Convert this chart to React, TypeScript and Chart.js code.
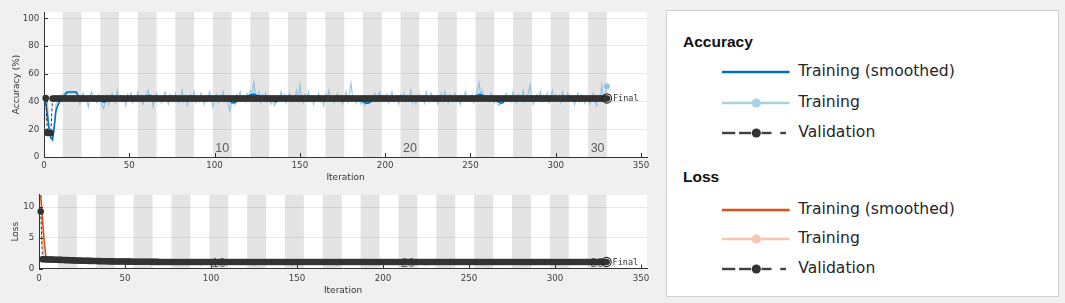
import React, { useEffect, useRef } from "react";
import { Chart, registerables } from "chart.js";
Chart.register(...registerables);

// ---------------- data ----------------
const ITERS_PER_EPOCH = 11;
const NUM_EPOCHS = 30;
const epochLabelValues = [10, 20, 30];
const xTickValues = [0, 50, 100, 150, 200, 250, 300, 350];
const accTickValues = [0, 20, 40, 60, 80, 100];
const lossTickValues = [0, 5, 10];

// iterations 1..330
const accTrainRaw = [
  27, 41, 18, 14, 12, 20, 38, 40, 43, 44,
  45, 46, 47, 46, 47, 46, 47, 46, 47, 44,
  38, 43, 46, 40, 42, 36, 44, 47, 41, 43,
  39, 45, 42, 37, 35, 41, 44, 38, 43, 46,
  42, 39, 48, 41, 44, 40, 43, 37, 45, 42,
  46, 39, 43, 41, 47, 40, 44, 38, 42, 45,
  48, 41, 44, 36, 43, 46, 40, 42, 39, 44,
  47, 41, 38, 45, 43, 40, 46, 42, 39, 43,
  48, 40, 44, 37, 42, 45, 41, 47, 39, 43,
  40, 46, 42, 38, 44, 41, 47, 43, 36, 41,
  45, 39, 44, 42, 47, 40, 43, 38, 33, 40,
  42, 38, 45, 43, 47, 41, 44, 40, 46, 43,
  48, 45, 54, 44, 41, 47, 39, 45, 42, 46,
  40, 43, 38, 41, 37, 40, 44, 42, 47, 41,
  45, 39, 43, 46, 40, 44, 42, 48, 41, 52,
  43, 39, 45, 41, 47, 40, 43, 38, 44, 42,
  46, 40, 43, 37, 45, 42, 48, 41, 44, 39,
  43, 46, 41, 44, 38, 42, 47, 40, 45, 53,
  42, 44, 39, 43, 41, 38, 40, 37, 41, 39,
  42, 44, 40, 46, 43, 45, 47, 42, 44, 41,
  45, 39, 43, 47, 40, 44, 42, 38, 45, 43,
  46, 40, 44, 41, 48, 39, 42, 38, 43, 45,
  41, 44, 39, 47, 42, 40, 46, 43, 41, 44,
  38, 42, 46, 40, 47, 43, 39, 45, 41, 43,
  46, 40, 42, 38, 44, 41, 47, 43, 40, 42,
  45, 39, 44, 47, 54, 45, 48, 43, 41, 44,
  40, 46, 42, 39, 41, 38, 37, 39, 40, 43,
  46, 41, 44, 40, 47, 42, 39, 45, 41, 43,
  48, 40, 44, 46, 52, 41, 38, 43, 45, 42,
  47, 40, 44, 41, 46, 39, 43, 48, 42, 45,
  41, 44, 39, 47, 42, 40, 46, 43, 41, 44,
  38, 42, 46, 40, 45, 43, 39, 44, 41, 38,
  43, 46, 40, 37, 44, 42, 52, 41, 45, 51,
];

const accTrainSmoothed = [
  40, 30, 20, 14, 12.5, 22, 33, 37, 39.5, 41,
  42.5, 44, 46, 46.8, 46.8, 46.8, 46.8, 46.8, 46.8, 44,
  42.5, 42.4, 42.6, 42.3, 42.2, 42, 42.4, 42.8, 42.5, 42.4,
  42.1, 41.8, 41, 40.2, 39.6, 39.8, 40.5, 41.3, 42, 42.4,
  42.3, 42.1, 42.6, 42.4, 42.5, 42.2, 42.4, 42, 42.3, 42.2,
  42.5, 42.2, 42.3, 42.1, 42.6, 42.3, 42.4, 42, 42.3, 43.3,
  44.2, 44.4, 44, 43.2, 42.6, 42.4, 42.2, 42.3, 42, 42.4,
  42.8, 42.4, 42.1, 43.2, 43.9, 43.4, 42.7, 42.4, 42, 42.2,
  42.6, 42.3, 42.4, 42, 42.2, 42.5, 42.3, 42.6, 42.1, 42.3,
  42.1, 42.4, 42.3, 42, 42.3, 42.2, 42.6, 42.5, 41.9, 42,
  42.3, 42.1, 42.3, 42.2, 42.5, 42.2, 42.1, 41.4, 40.2, 39.3,
  39, 39.3, 40.1, 41.2, 42.1, 42.3, 42.4, 42.2, 43.1, 44.2,
  44.8, 45, 45.3, 44.9, 44.2, 43.5, 42.6, 42.5, 42.3, 42.4,
  42.1, 42.2, 41.8, 41.1, 40.2, 39.8, 40.3, 41.2, 42.1, 42.2,
  42.3, 42.1, 42.2, 42.4, 42.2, 42.3, 42.2, 42.6, 42.4, 43,
  42.8, 42.4, 42.3, 42.2, 42.5, 42.2, 42.3, 42, 42.1, 42.2,
  42.4, 42.2, 42.3, 41.9, 42.1, 42.2, 42.6, 42.4, 42.5, 42.2,
  42.2, 42.4, 42.3, 42.4, 42.1, 42, 42.3, 42.2, 42.4, 43.2,
  43, 42.7, 42.3, 42.1, 41.8, 41, 40, 39.2, 38.8, 38.8,
  39.3, 40.2, 41.3, 42.3, 42.6, 43.3, 44, 43.8, 43.1, 42.5,
  42.6, 42.3, 42.2, 42.5, 42.2, 42.3, 42.2, 41.9, 42.2, 42.3,
  42.5, 42.2, 42.4, 42.3, 42.6, 42.1, 41.4, 40.9, 41.1, 41.8,
  42.2, 42.3, 42.1, 42.5, 42.4, 42.2, 42.5, 42.4, 42.3, 42.4,
  42.1, 42, 42.3, 42.2, 42.6, 42.5, 42.2, 42.4, 42.3, 42.2,
  42.5, 42.3, 42.2, 42, 42.2, 42.1, 42.5, 42.4, 42.2, 42.2,
  42.5, 42.3, 43.4, 44.4, 45.2, 45, 44.5, 43.5, 42.8, 42.6,
  42.3, 42.4, 42.2, 42, 41.4, 40.3, 39.3, 38.8, 39.1, 40.4,
  41.8, 42.2, 42.3, 42.2, 42.5, 42.4, 42.1, 42.3, 42.2, 42.3,
  42.6, 42.3, 41.6, 40.7, 40.6, 41.5, 42.3, 42.2, 42.4, 42.2,
  42.5, 42.2, 42.3, 42.1, 42.4, 42.1, 42.2, 42.6, 42.4, 42.5,
  42.3, 42.4, 42.1, 42.5, 42.3, 42.2, 42.5, 42.4, 42.2, 42.4,
  42, 42.1, 42.4, 42.2, 42.4, 42.3, 42.1, 42.3, 42.2, 41.8,
  41.9, 42.2, 41.9, 41.1, 40.5, 40.6, 41.4, 42.1, 42.4, 43,
];

const accValidation = [
  42.4, 17.3, 17.3, 17.3, 42.2, 42.2, 42.2, 42.2, 42.2, 42.2,
  42.2, 42.2, 42.2, 42.2, 42.2, 42.2, 42.2, 42.2, 42.2, 42.2,
  42.2, 42.2, 42.2, 42.2, 42.2, 42.2, 42.2, 42.2, 42.2, 42.2,
  42.2, 42.2, 42.2, 42.2, 42.2, 42.2, 42.2, 42.2, 42.2, 42.2,
  42.2, 42.2, 42.2, 42.2, 42.2, 42.2, 42.2, 42.2, 42.2, 42.2,
  42.2, 42.2, 42.2, 42.2, 42.2, 42.2, 42.2, 42.2, 42.2, 42.2,
  42.2, 42.2, 42.2, 42.2, 42.2, 42.2, 42.2, 42.2, 42.2, 42.2,
  42.2, 42.2, 42.2, 42.2, 42.2, 42.2, 42.2, 42.2, 42.2, 42.2,
  42.2, 42.2, 42.2, 42.2, 42.2, 42.2, 42.2, 42.2, 42.2, 42.2,
  42.2, 42.2, 42.2, 42.2, 42.2, 42.2, 42.2, 42.2, 42.2, 42.2,
  42.2, 42.2, 42.2, 42.2, 42.2, 42.2, 42.2, 42.2, 42.2, 42.2,
  42.2, 42.2, 42.2, 42.2, 42.2, 42.2, 42.2, 42.2, 42.2, 42.2,
  42.2, 42.2, 42.2, 42.2, 42.2, 42.2, 42.2, 42.2, 42.2, 42.2,
  42.2, 42.2, 42.2, 42.2, 42.2, 42.2, 42.2, 42.2, 42.2, 42.2,
  42.2, 42.2, 42.2, 42.2, 42.2, 42.2, 42.2, 42.2, 42.2, 42.2,
  42.2, 42.2, 42.2, 42.2, 42.2, 42.2, 42.2, 42.2, 42.2, 42.2,
  42.2, 42.2, 42.2, 42.2, 42.2, 42.2, 42.2, 42.2, 42.2, 42.2,
  42.2, 42.2, 42.2, 42.2, 42.2, 42.2, 42.2, 42.2, 42.2, 42.2,
  42.2, 42.2, 42.2, 42.2, 42.2, 42.2, 42.2, 42.2, 42.2, 42.2,
  42.2, 42.2, 42.2, 42.2, 42.2, 42.2, 42.2, 42.2, 42.2, 42.2,
  42.2, 42.2, 42.2, 42.2, 42.2, 42.2, 42.2, 42.2, 42.2, 42.2,
  42.2, 42.2, 42.2, 42.2, 42.2, 42.2, 42.2, 42.2, 42.2, 42.2,
  42.2, 42.2, 42.2, 42.2, 42.2, 42.2, 42.2, 42.2, 42.2, 42.2,
  42.2, 42.2, 42.2, 42.2, 42.2, 42.2, 42.2, 42.2, 42.2, 42.2,
  42.2, 42.2, 42.2, 42.2, 42.2, 42.2, 42.2, 42.2, 42.2, 42.2,
  42.2, 42.2, 42.2, 42.2, 42.2, 42.2, 42.2, 42.2, 42.2, 42.2,
  42.2, 42.2, 42.2, 42.2, 42.2, 42.2, 42.2, 42.2, 42.2, 42.2,
  42.2, 42.2, 42.2, 42.2, 42.2, 42.2, 42.2, 42.2, 42.2, 42.2,
  42.2, 42.2, 42.2, 42.2, 42.2, 42.2, 42.2, 42.2, 42.2, 42.2,
  42.2, 42.2, 42.2, 42.2, 42.2, 42.2, 42.2, 42.2, 42.2, 42.2,
  42.2, 42.2, 42.2, 42.2, 42.2, 42.2, 42.2, 42.2, 42.2, 42.2,
  42.2, 42.2, 42.2, 42.2, 42.2, 42.2, 42.2, 42.2, 42.2, 42.2,
  42.2, 42.2, 42.2, 42.2, 42.2, 42.2, 42.2, 42.2, 42.2, 42.2,
];

const lossTrainRaw = [
  12, 4.6, 1.7, 1.52, 1.58, 1.44, 1.53, 1.41, 1.5, 1.4,
  1.38, 1.47, 1.36, 1.44, 1.33, 1.41, 1.32, 1.38, 1.3, 1.36,
  1.28, 1.35, 1.26, 1.33, 1.24, 1.31, 1.23, 1.3, 1.21, 1.28,
  1.2, 1.27, 1.18, 1.25, 1.17, 1.24, 1.15, 1.23, 1.14, 1.22,
  1.13, 1.21, 1.12, 1.2, 1.11, 1.19, 1.1, 1.18, 1.09, 1.17,
  1.08, 1.16, 1.07, 1.16, 1.06, 1.15, 1.06, 1.14, 1.05, 1.14,
  1.05, 1.13, 1.04, 1.13, 1.03, 1.12, 1.03, 1.12, 1.02, 1.11,
  1.02, 1.11, 1.01, 1.1, 1.01, 1.1, 1.0, 1.09, 1.0, 1.09,
  1.01, 1.1, 0.99, 1.08, 1.02, 1.11, 0.98, 1.07, 1.03, 1.1,
  0.99, 1.08, 1.01, 1.12, 0.98, 1.06, 1.02, 1.09, 0.99, 1.08,
  1.03, 1.1, 0.98, 1.07, 1.01, 1.11, 0.99, 1.06, 1.02, 1.09,
  0.98, 1.08, 1.03, 1.1, 0.99, 1.07, 1.01, 1.12, 0.98, 1.06,
  1.02, 1.09, 0.99, 1.08, 1.03, 1.1, 0.98, 1.07, 1.01, 1.11,
  0.99, 1.06, 1.02, 1.09, 0.98, 1.08, 1.03, 1.1, 0.99, 1.07,
  1.01, 1.12, 0.98, 1.06, 1.02, 1.09, 0.99, 1.08, 1.03, 1.1,
  0.98, 1.07, 1.01, 1.11, 0.99, 1.06, 1.02, 1.09, 0.98, 1.08,
  1.03, 1.1, 0.99, 1.07, 1.01, 1.12, 0.98, 1.06, 1.02, 1.09,
  0.99, 1.08, 1.03, 1.1, 0.98, 1.07, 1.01, 1.11, 0.99, 1.06,
  1.02, 1.09, 0.98, 1.08, 1.03, 1.1, 0.99, 1.07, 1.01, 1.12,
  0.98, 1.06, 1.02, 1.09, 0.99, 1.08, 1.03, 1.1, 0.98, 1.07,
  1.01, 1.11, 0.99, 1.06, 1.02, 1.09, 0.98, 1.08, 1.03, 1.1,
  0.99, 1.07, 1.01, 1.12, 0.98, 1.06, 1.02, 1.09, 0.99, 1.08,
  1.03, 1.1, 0.98, 1.07, 1.01, 1.11, 0.99, 1.06, 1.02, 1.09,
  0.98, 1.08, 1.03, 1.1, 0.99, 1.07, 1.01, 1.12, 0.98, 1.06,
  1.02, 1.09, 0.99, 1.08, 1.03, 1.1, 0.98, 1.07, 1.01, 1.11,
  0.99, 1.06, 1.02, 1.09, 0.98, 1.08, 1.03, 1.1, 0.99, 1.07,
  1.01, 1.12, 0.98, 1.06, 1.02, 1.09, 0.99, 1.08, 1.03, 1.1,
  0.98, 1.07, 1.01, 1.11, 0.99, 1.06, 1.02, 1.09, 0.98, 1.08,
  1.03, 1.1, 0.99, 1.07, 1.01, 1.12, 0.98, 1.06, 1.02, 1.09,
  0.99, 1.08, 1.03, 1.1, 0.98, 1.07, 1.01, 1.11, 0.99, 1.06,
  1.02, 1.09, 0.98, 1.08, 1.03, 1.1, 0.99, 1.07, 1.01, 1.12,
  0.98, 1.06, 1.02, 1.09, 0.99, 1.08, 1.03, 1.1, 0.98, 1.07,
  1.01, 1.11, 0.99, 1.06, 1.02, 1.09, 0.98, 1.08, 1.03, 1.08,
];

const lossTrainSmoothed = [
  12, 8.2, 4.5, 1.85, 1.55, 1.5, 1.49, 1.47, 1.46, 1.45,
  1.43, 1.42, 1.41, 1.4, 1.38, 1.37, 1.36, 1.35, 1.34, 1.33,
  1.32, 1.31, 1.3, 1.29, 1.28, 1.27, 1.27, 1.26, 1.25, 1.24,
  1.23, 1.23, 1.22, 1.21, 1.21, 1.2, 1.19, 1.19, 1.18, 1.18,
  1.17, 1.17, 1.16, 1.16, 1.15, 1.15, 1.14, 1.14, 1.14, 1.13,
  1.13, 1.12, 1.12, 1.12, 1.11, 1.11, 1.11, 1.1, 1.1, 1.1,
  1.1, 1.09, 1.09, 1.09, 1.09, 1.08, 1.08, 1.08, 1.08, 1.08,
  1.07, 1.07, 1.07, 1.07, 1.07, 1.07, 1.06, 1.06, 1.06, 1.06,
  1.06, 1.06, 1.05, 1.06, 1.05, 1.05, 1.06, 1.05, 1.05, 1.05,
  1.04, 1.05, 1.05, 1.04, 1.05, 1.05, 1.04, 1.04, 1.05, 1.04,
  1.05, 1.06, 1.05, 1.04, 1.04, 1.05, 1.05, 1.04, 1.04, 1.03,
  1.04, 1.04, 1.05, 1.05, 1.04, 1.04, 1.05, 1.06, 1.05, 1.04,
  1.03, 1.04, 1.04, 1.05, 1.04, 1.04, 1.05, 1.05, 1.04, 1.04,
  1.05, 1.04, 1.04, 1.03, 1.04, 1.05, 1.05, 1.04, 1.04, 1.04,
  1.05, 1.05, 1.04, 1.04, 1.05, 1.04, 1.03, 1.04, 1.04, 1.05,
  1.04, 1.05, 1.05, 1.04, 1.04, 1.04, 1.05, 1.04, 1.03, 1.04,
  1.04, 1.05, 1.04, 1.04, 1.05, 1.05, 1.04, 1.04, 1.05, 1.04,
  1.05, 1.06, 1.05, 1.04, 1.04, 1.03, 1.04, 1.04, 1.05, 1.05,
  1.04, 1.04, 1.05, 1.04, 1.04, 1.05, 1.04, 1.04, 1.03, 1.04,
  1.05, 1.04, 1.04, 1.05, 1.05, 1.04, 1.04, 1.04, 1.05, 1.04,
  1.04, 1.03, 1.04, 1.04, 1.05, 1.04, 1.04, 1.05, 1.05, 1.04,
  1.04, 1.05, 1.04, 1.04, 1.03, 1.04, 1.04, 1.05, 1.04, 1.04,
  1.05, 1.05, 1.04, 1.04, 1.04, 1.05, 1.04, 1.03, 1.04, 1.04,
  1.04, 1.05, 1.05, 1.04, 1.04, 1.05, 1.04, 1.04, 1.04, 1.05,
  1.04, 1.04, 1.03, 1.04, 1.05, 1.06, 1.05, 1.04, 1.04, 1.04,
  1.05, 1.04, 1.04, 1.05, 1.05, 1.04, 1.04, 1.03, 1.04, 1.04,
  1.05, 1.04, 1.04, 1.04, 1.05, 1.05, 1.04, 1.04, 1.05, 1.04,
  1.04, 1.03, 1.04, 1.05, 1.04, 1.04, 1.05, 1.04, 1.04, 1.05,
  1.05, 1.04, 1.04, 1.04, 1.05, 1.04, 1.03, 1.04, 1.04, 1.05,
  1.04, 1.05, 1.05, 1.04, 1.04, 1.04, 1.05, 1.04, 1.04, 1.03,
  1.04, 1.04, 1.05, 1.04, 1.04, 1.05, 1.05, 1.04, 1.04, 1.04,
  1.05, 1.04, 1.04, 1.03, 1.04, 1.05, 1.04, 1.04, 1.05, 1.05,
  1.04, 1.04, 1.05, 1.05, 1.04, 1.04, 1.05, 1.05, 1.06, 1.06,
];

const lossValidation = [
  9.3, 1.52, 1.5, 1.49, 1.48, 1.46, 1.45, 1.45, 1.43, 1.42,
  1.41, 1.4, 1.4, 1.38, 1.37, 1.36, 1.36, 1.35, 1.33, 1.32,
  1.31, 1.31, 1.3, 1.28, 1.27, 1.27, 1.26, 1.25, 1.24, 1.24,
  1.23, 1.22, 1.22, 1.21, 1.2, 1.2, 1.19, 1.18, 1.18, 1.17,
  1.17, 1.16, 1.16, 1.15, 1.15, 1.14, 1.14, 1.13, 1.13, 1.13,
  1.12, 1.12, 1.12, 1.11, 1.11, 1.11, 1.1, 1.1, 1.1, 1.1,
  1.09, 1.09, 1.09, 1.09, 1.08, 1.08, 1.08, 1.08, 1.08, 1.07,
  1.07, 1.07, 1.07, 1.07, 1.07, 1.06, 1.06, 1.06, 1.06, 1.06,
  1.06, 1.06, 1.05, 1.05, 1.05, 1.05, 1.05, 1.05, 1.05, 1.05,
  1.05, 1.05, 1.05, 1.04, 1.05, 1.05, 1.05, 1.05, 1.05, 1.05,
  1.05, 1.05, 1.06, 1.05, 1.05, 1.05, 1.05, 1.04, 1.05, 1.05,
  1.05, 1.05, 1.05, 1.05, 1.05, 1.06, 1.05, 1.05, 1.05, 1.05,
  1.05, 1.05, 1.05, 1.05, 1.04, 1.05, 1.05, 1.05, 1.05, 1.05,
  1.05, 1.06, 1.05, 1.05, 1.05, 1.05, 1.05, 1.05, 1.05, 1.05,
  1.05, 1.05, 1.05, 1.05, 1.05, 1.05, 1.04, 1.05, 1.05, 1.05,
  1.05, 1.05, 1.05, 1.06, 1.05, 1.05, 1.05, 1.05, 1.05, 1.05,
  1.05, 1.05, 1.05, 1.05, 1.05, 1.05, 1.05, 1.05, 1.06, 1.05,
  1.05, 1.05, 1.04, 1.05, 1.05, 1.05, 1.05, 1.05, 1.05, 1.05,
  1.05, 1.05, 1.05, 1.05, 1.05, 1.06, 1.05, 1.05, 1.05, 1.05,
  1.05, 1.05, 1.05, 1.05, 1.05, 1.05, 1.05, 1.04, 1.05, 1.05,
  1.05, 1.05, 1.06, 1.05, 1.05, 1.05, 1.05, 1.05, 1.05, 1.05,
  1.05, 1.05, 1.05, 1.05, 1.05, 1.05, 1.05, 1.05, 1.05, 1.06,
  1.05, 1.05, 1.05, 1.05, 1.04, 1.05, 1.05, 1.05, 1.05, 1.05,
  1.05, 1.05, 1.05, 1.05, 1.05, 1.05, 1.06, 1.05, 1.05, 1.05,
  1.05, 1.05, 1.05, 1.05, 1.05, 1.05, 1.05, 1.05, 1.05, 1.05,
  1.05, 1.06, 1.05, 1.05, 1.05, 1.05, 1.05, 1.04, 1.05, 1.05,
  1.05, 1.05, 1.05, 1.05, 1.05, 1.05, 1.05, 1.05, 1.06, 1.05,
  1.05, 1.05, 1.05, 1.05, 1.05, 1.05, 1.05, 1.05, 1.05, 1.05,
  1.05, 1.05, 1.06, 1.05, 1.05, 1.04, 1.05, 1.05, 1.05, 1.05,
  1.05, 1.05, 1.05, 1.05, 1.05, 1.05, 1.05, 1.06, 1.05, 1.05,
  1.05, 1.05, 1.05, 1.05, 1.05, 1.05, 1.05, 1.05, 1.05, 1.06,
  1.05, 1.05, 1.05, 1.06, 1.05, 1.05, 1.05, 1.06, 1.06, 1.06,
  1.06, 1.06, 1.06, 1.06, 1.06, 1.07, 1.07, 1.07, 1.07, 1.07,
];

// ---------------- styling constants ----------------
const FONT = "'DejaVu Sans', sans-serif";
const BG = "#f0f0f0";
const BAND = "#e4e4e4";
const AXIS = "#333333";
const TICK_TEXT = "#404040";
const VAL_COLOR = "#333333";

const toXY = (arr: number[]) => arr.map((y, i) => ({ x: i + 1, y }));

const trainingPlugin = {
  id: "training",
  beforeDraw(chart: any) {
    const { ctx, chartArea: a } = chart;
    const x = chart.scales.x;
    ctx.save();
    ctx.fillStyle = "#ffffff";
    ctx.fillRect(a.left, a.top, a.right - a.left, a.bottom - a.top);
    ctx.fillStyle = BAND;
    for (let e = 2; e <= NUM_EPOCHS; e += 2) {
      const x0 = x.getPixelForValue((e - 1) * ITERS_PER_EPOCH);
      const x1 = x.getPixelForValue(e * ITERS_PER_EPOCH);
      ctx.fillRect(x0, a.top, x1 - x0, a.bottom - a.top);
    }
    ctx.restore();
  },
  beforeDatasetsDraw(chart: any, _args: any, o: any) {
    const { ctx, chartArea: a } = chart;
    const x = chart.scales.x;
    ctx.save();
    ctx.fillStyle = "#5c5c5c";
    ctx.font = "12.5px 'Liberation Sans', Arial, sans-serif";
    ctx.textAlign = "left";
    ctx.textBaseline = "middle";
    epochLabelValues.forEach((ep) => {
      const px = x.getPixelForValue((ep - 1) * ITERS_PER_EPOCH) + 2.5;
      ctx.fillText(String(ep), px, a.bottom - o.labelLift);
    });
    ctx.restore();
  },
  afterDatasetsDraw(chart: any, _args: any, o: any) {
    const { ctx, chartArea: a } = chart;
    const x = chart.scales.x;
    const y = chart.scales.y;
    ctx.save();
    ctx.strokeStyle = AXIS;
    ctx.lineWidth = 1;
    ctx.beginPath();
    x.ticks.forEach((t: any) => {
      const px = Math.round(x.getPixelForValue(t.value)) + 0.5;
      ctx.moveTo(px, a.bottom);
      ctx.lineTo(px, a.bottom - 4);
    });
    y.ticks.forEach((t: any) => {
      const py = Math.round(y.getPixelForValue(t.value)) + 0.5;
      ctx.moveTo(a.left, py);
      ctx.lineTo(a.left + 4, py);
    });
    ctx.stroke();
    const meta = chart.getDatasetMeta(o.finalIndex);
    const pt = meta && meta.data && meta.data[0];
    if (pt) {
      ctx.fillStyle = "#333";
      ctx.font = "8.5px 'DejaVu Sans Mono', monospace";
      ctx.textAlign = "left";
      ctx.textBaseline = "middle";
      ctx.fillText("Final", pt.x + 6, pt.y + 0.5);
    }
    ctx.restore();
  },
};

type Cfg = {
  top: number;
  height: number;
  padTop: number;
  yWidth: number;
  xHeight: number;
  yMax: number;
  yTicks: number[];
  yTitle: string;
  yTitlePad: number;
  xTickPad: number;
  xTitlePad: number;
  labelLift: number;
  raw: number[];
  smoothed: number[];
  validation: number[];
  rawColor: string;
  smoothColor: string;
};

function TrainingChart({ cfg }: { cfg: Cfg }) {
  const ref = useRef<HTMLCanvasElement>(null);
  useEffect(() => {
    const n = cfg.raw.length;
    const chart = new Chart(ref.current as HTMLCanvasElement, {
      type: "line",
      data: {
        datasets: [
          {
            label: "Training",
            data: toXY(cfg.raw),
            borderColor: cfg.rawColor,
            borderWidth: 1.1,
            pointRadius: (c: any) => (c.dataIndex === n - 1 ? 3 : 0),
            pointBackgroundColor: cfg.rawColor,
            pointBorderWidth: 0,
            tension: 0,
            order: 4,
          },
          {
            label: "Training (smoothed)",
            data: toXY(cfg.smoothed),
            borderColor: cfg.smoothColor,
            borderWidth: 1.6,
            pointRadius: 0,
            tension: 0,
            order: 3,
          },
          {
            label: "Validation",
            data: toXY(cfg.validation),
            borderColor: VAL_COLOR,
            borderWidth: 1,
            borderDash: [3, 2],
            pointRadius: 3.3,
            pointBackgroundColor: VAL_COLOR,
            pointBorderWidth: 0,
            tension: 0,
            clip: 6,
            order: 2,
          },
          {
            label: "Final",
            data: [{ x: n, y: cfg.validation[n - 1] }],
            showLine: false,
            pointRadius: 4.6,
            pointBorderColor: "#222",
            pointBackgroundColor: "rgba(0,0,0,0)",
            pointBorderWidth: 1.2,
            clip: 8,
            order: 1,
          },
        ] as any,
      },
      options: {
        responsive: false,
        animation: false,
        devicePixelRatio: 1,
        events: [],
        layout: { padding: { top: cfg.padTop, right: 13, left: 0, bottom: 0 } },
        plugins: {
          legend: { display: false },
          tooltip: { enabled: false },
          training: { labelLift: cfg.labelLift, finalIndex: 3 },
        } as any,
        scales: {
          x: {
            type: "linear",
            min: 0,
            max: 353.5,
            afterBuildTicks: (s: any) => {
              s.ticks = xTickValues.map((v) => ({ value: v }));
            },
            afterFit: (s: any) => {
              s.height = cfg.xHeight;
            },
            ticks: {
              font: { family: FONT, size: 8.7 },
              color: TICK_TEXT,
              padding: cfg.xTickPad,
              maxRotation: 0,
              autoSkip: false,
            },
            grid: { display: false, drawTicks: false },
            border: { display: true, color: AXIS, width: 1 },
            title: {
              display: true,
              text: "Iteration",
              font: { family: FONT, size: 9 },
              color: "#333",
              padding: { top: 0, bottom: cfg.xTitlePad },
            },
          },
          y: {
            type: "linear",
            min: 0,
            max: cfg.yMax,
            afterBuildTicks: (s: any) => {
              s.ticks = cfg.yTicks.map((v) => ({ value: v }));
            },
            afterFit: (s: any) => {
              s.width = cfg.yWidth;
            },
            ticks: {
              font: { family: FONT, size: 8.7 },
              color: TICK_TEXT,
              padding: 4.7,
            },
            grid: { display: true, drawTicks: false, color: "rgba(0,0,0,0.09)", lineWidth: 1 },
            border: { display: true, color: AXIS, width: 1 },
            title: {
              display: true,
              text: cfg.yTitle,
              font: { family: FONT, size: 9 },
              color: "#333",
              padding: { top: cfg.yTitlePad, bottom: 0 },
            },
          },
        },
      } as any,
      plugins: [trainingPlugin as any],
    });
    return () => chart.destroy();
  }, []);
  return (
    <canvas
      ref={ref}
      width={660}
      height={cfg.height}
      style={{ position: "absolute", left: 0, top: cfg.top, width: 660, height: cfg.height }}
    />
  );
}

const accCfg: Cfg = {
  top: 0,
  height: 185,
  padTop: 12,
  yWidth: 44,
  xHeight: 28,
  yMax: 104.5,
  yTicks: accTickValues,
  yTitle: "Accuracy (%)",
  yTitlePad: 11.3,
  xTickPad: 3.6,
  xTitlePad: 2.3,
  labelLift: 8.5,
  raw: accTrainRaw,
  smoothed: accTrainSmoothed,
  validation: accValidation,
  rawColor: "rgba(125,185,220,0.8)",
  smoothColor: "#0072BD",
};

const lossCfg: Cfg = {
  top: 185,
  height: 112,
  padTop: 9,
  yWidth: 39,
  xHeight: 28.5,
  yMax: 12,
  yTicks: lossTickValues,
  yTitle: "Loss",
  yTitlePad: 10.6,
  xTickPad: 4.9,
  xTitlePad: 0.6,
  labelLift: 4.5,
  raw: lossTrainRaw,
  smoothed: lossTrainSmoothed,
  validation: lossValidation,
  rawColor: "rgba(242,176,150,0.9)",
  smoothColor: "#D95319",
};

// ---------------- legend ----------------
const TEXT_FONT = "'DejaVu Sans', sans-serif";

function Icon({ kind, line, dot }: { kind: string; line: string; dot?: string }) {
  return (
    <svg width={70} height={14} style={{ position: "absolute", left: 0, top: -7, overflow: "visible" }}>
      {kind === "smooth" && <line x1={0} y1={7} x2={67.6} y2={7} stroke={line} strokeWidth={2.4} />}
      {kind === "raw" && (
        <g>
          <line x1={0} y1={7} x2={67.6} y2={7} stroke={line} strokeWidth={2.4} />
          <circle cx={34.3} cy={7} r={4.6} fill={dot} />
        </g>
      )}
      {kind === "val" && (
        <g stroke={line} strokeWidth={2.4}>
          <line x1={0} y1={7} x2={13.3} y2={7} />
          <line x1={17} y1={7} x2={29} y2={7} />
          <line x1={39.5} y1={7} x2={49.5} y2={7} />
          <line x1={58.3} y1={7} x2={64} y2={7} />
          <circle cx={34.3} cy={7} r={4.6} fill={dot} stroke="none" />
        </g>
      )}
    </svg>
  );
}

function LegendRow({ y, kind, line, dot, text }: any) {
  return (
    <div style={{ position: "absolute", left: 721.7, top: y, height: 0 }}>
      <Icon kind={kind} line={line} dot={dot} />
      <div
        style={{
          position: "absolute",
          left: 798.3 - 721.7,
          top: -10,
          height: 20,
          lineHeight: "20px",
          whiteSpace: "nowrap",
          font: `15.6px ${TEXT_FONT}`,
          color: "#262626",
        }}
      >
        {text}
      </div>
    </div>
  );
}

function Heading({ y, text }: { y: number; text: string }) {
  return (
    <div
      style={{
        position: "absolute",
        left: 683,
        top: y - 10,
        height: 20,
        lineHeight: "20px",
        font: "bold 15.5px 'Liberation Sans', Arial, sans-serif",
        color: "#111",
        whiteSpace: "nowrap",
      }}
    >
      {text}
    </div>
  );
}

export default function App() {
  return (
    <div
      style={{
        position: "fixed",
        left: 0,
        top: 0,
        width: 1065,
        height: 303,
        background: BG,
        overflow: "hidden",
      }}
    >
      <TrainingChart cfg={accCfg} />
      <TrainingChart cfg={lossCfg} />
      <div
        style={{
          position: "absolute",
          left: 666,
          top: 10,
          width: 391,
          height: 285,
          background: "#ffffff",
          border: "1px solid #d2d2d2",
        }}
      />
      <Heading y={43.3} text="Accuracy" />
      <LegendRow y={71.7} kind="smooth" line="#0072BD" text="Training (smoothed)" />
      <LegendRow y={102.7} kind="raw" line="#a9cfe4" dot="#a6d3ec" text="Training" />
      <LegendRow y={132.7} kind="val" line="#404040" dot="#333333" text="Validation" />
      <Heading y={178.3} text="Loss" />
      <LegendRow y={210} kind="smooth" line="#D95319" text="Training (smoothed)" />
      <LegendRow y={239.3} kind="raw" line="#f5c3b0" dot="#f7c6b4" text="Training" />
      <LegendRow y={269} kind="val" line="#404040" dot="#333333" text="Validation" />
    </div>
  );
}
